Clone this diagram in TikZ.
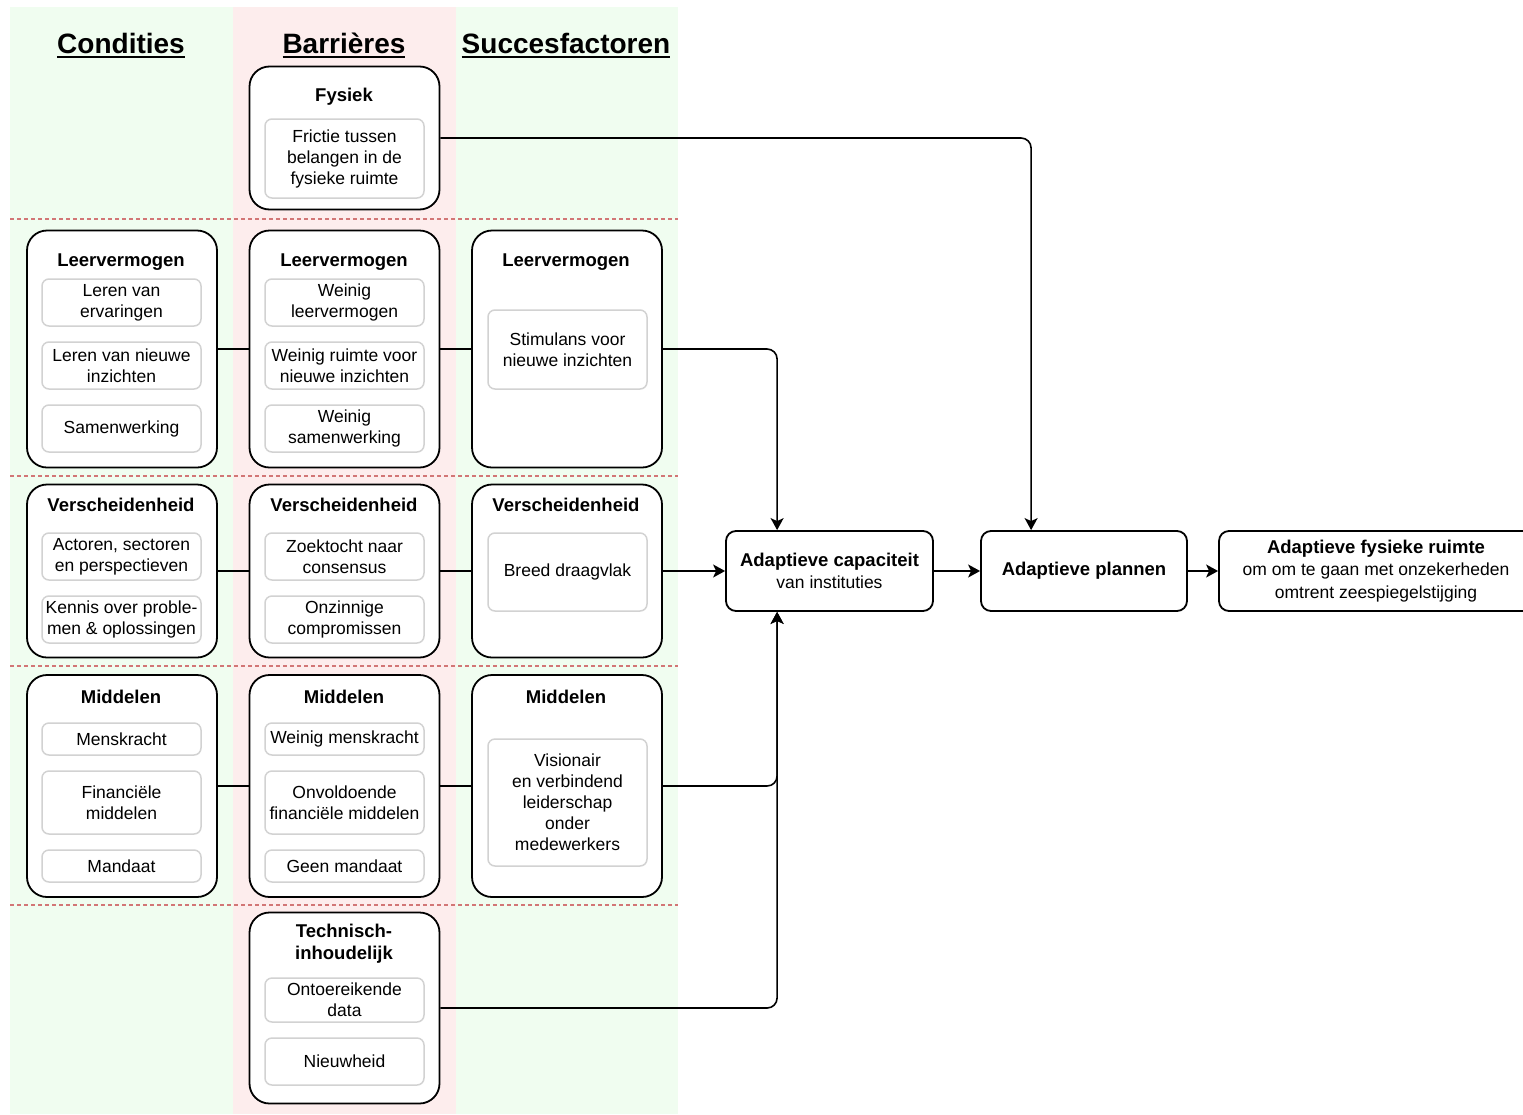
\documentclass[tikz,border=0pt]{standalone}
\usepackage{fontspec}
\setmainfont{Liberation Sans}
\usetikzlibrary{arrows.meta}

\definecolor{bggreen}{HTML}{F0FDF0}
\definecolor{bgred}{HTML}{FDEDED}
\definecolor{sepred}{HTML}{D27676}
\definecolor{itemgray}{HTML}{D2D2D2}
\newcommand{\headul}[1]{\vtop{\hbox{#1}\kern3pt\hrule height 2.2pt}}

\begin{document}
\begin{tikzpicture}[x=1pt, y=-1pt,
    outerbox/.style={draw, line width=1.8pt, rounded corners=20pt, fill=white, minimum width=190pt},
    itembox/.style={draw=itemgray, line width=1.5pt, rounded corners=7pt, fill=white, minimum width=159pt,
        inner sep=0pt, align=center, font=\fontsize{17.5}{21}\selectfont},
    boxtitle/.style={anchor=base, align=center, font=\fontsize{18.5}{22}\selectfont\bfseries},
    colhead/.style={anchor=base, font=\fontsize{28}{32}\selectfont\bfseries},
    endbox/.style={draw, line width=1.8pt, rounded corners=10pt, fill=white, minimum height=80pt,
        inner sep=0pt, align=center, font=\fontsize{17.5}{22.5}\selectfont},
    link/.style={line width=1.6pt, rounded corners=10pt},
    flow/.style={link, -{Stealth[length=12pt, width=13pt, inset=3pt]}}]
    \useasboundingbox (0,0) rectangle (1523,1114);
    % Columns
    \fill[bggreen] (10,7) rectangle (233,1114);
    \fill[bgred] (233,7) rectangle (456,1114);
    \fill[bggreen] (456,7) rectangle (678,1114);
    \foreach \yy in {219,476,666,905}
        \draw[sepred, line width=1.2pt, dash pattern=on 4pt off 3pt] (10,\yy) -- (678,\yy);
    \node[colhead] (hcond) at (121,53) {\headul{Condities}};
    \node[colhead] (hbar) at (344,53) {\headul{Barrières}};
    \node[colhead] (hsuc) at (566,53) {\headul{Succesfactoren}};

    % Fysiek
    \node[outerbox, minimum height=143pt] (barFys) at (344.5,138) {};
    \node[boxtitle] (tbarFys) at (344,101) {Fysiek};
    \node[itembox, minimum height=79pt] (bf1) at (344.5,158.5) {Frictie tussen\\belangen in de\\fysieke ruimte};

    % Leervermogen
    \node[outerbox, minimum height=237pt] (condLeer) at (122,349) {};
    \node[outerbox, minimum height=237pt] (barLeer) at (344.5,349) {};
    \node[outerbox, minimum height=237pt] (sucLeer) at (567,349) {};
    \node[boxtitle] (tcondLeer) at (121,266) {Leervermogen};
    \node[boxtitle] (tbarLeer) at (344,266) {Leervermogen};
    \node[boxtitle] (tsucLeer) at (566,266) {Leervermogen};
    \node[itembox, minimum height=47pt] (cl1) at (121.5,302.5) {Leren van\\ervaringen};
    \node[itembox, minimum height=47pt] (cl2) at (121.5,365.5) {Leren van nieuwe\\inzichten};
    \node[itembox, minimum height=47pt] (cl3) at (121.5,428.5) {Samenwerking};
    \node[itembox, minimum height=47pt] (bl1) at (344.5,302.5) {Weinig\\leervermogen};
    \node[itembox, minimum height=47pt] (bl2) at (344.5,365.5) {Weinig ruimte voor\\nieuwe inzichten};
    \node[itembox, minimum height=47pt] (bl3) at (344.5,428.5) {Weinig\\samenwerking};
    \node[itembox, minimum height=79pt] (sl1) at (567.5,349.5) {Stimulans voor\\nieuwe inzichten};

    % Verscheidenheid
    \node[outerbox, minimum height=173pt] (condVer) at (122,571) {};
    \node[outerbox, minimum height=173pt] (barVer) at (344.5,571) {};
    \node[outerbox, minimum height=173pt] (sucVer) at (567,571) {};
    \node[boxtitle] (tcondVer) at (121,511) {Verscheidenheid};
    \node[boxtitle] (tbarVer) at (344,511) {Verscheidenheid};
    \node[boxtitle] (tsucVer) at (566,511) {Verscheidenheid};
    \node[itembox, minimum height=47pt] (cv1) at (121.5,556.5) {Actoren, sectoren\\en perspectieven};
    \node[itembox, minimum height=47pt] (cv2) at (121.5,619.5) {Kennis over proble-\\men \& oplossingen};
    \node[itembox, minimum height=47pt] (bv1) at (344.5,556.5) {Zoektocht naar\\consensus};
    \node[itembox, minimum height=47pt] (bv2) at (344.5,619.5) {Onzinnige\\compromissen};
    \node[itembox, minimum height=78pt] (sv1) at (567.5,572) {Breed draagvlak};

    % Middelen
    \node[outerbox, minimum height=222pt] (condMid) at (122,786) {};
    \node[outerbox, minimum height=222pt] (barMid) at (344.5,786) {};
    \node[outerbox, minimum height=222pt] (sucMid) at (567,786) {};
    \node[boxtitle] (tcondMid) at (121,703) {Middelen};
    \node[boxtitle] (tbarMid) at (344,703) {Middelen};
    \node[boxtitle] (tsucMid) at (566,703) {Middelen};
    \node[itembox, minimum height=32pt] (cm1) at (121.5,739) {Menskracht};
    \node[itembox, minimum height=63pt] (cm2) at (121.5,802.5) {Financiële\\middelen};
    \node[itembox, minimum height=32pt] (cm3) at (121.5,866) {Mandaat};
    \node[itembox, minimum height=32pt] (bm1) at (344.5,739) {Weinig menskracht};
    \node[itembox, minimum height=63pt] (bm2) at (344.5,802.5) {Onvoldoende\\financiële middelen};
    \node[itembox, minimum height=32pt] (bm3) at (344.5,866) {Geen mandaat};
    \node[itembox, minimum height=127pt] (sm1) at (567.5,802.5) {Visionair\\en verbindend\\leiderschap\\onder\\medewerkers};

    % Technisch-inhoudelijk
    \node[outerbox, minimum height=191pt] (barTech) at (344.5,1008) {};
    \node[boxtitle, anchor=center] (tbarTech) at (344,944) {Technisch-\\inhoudelijk};
    \node[itembox, minimum height=44pt] (bt1) at (344.5,1000) {Ontoereikende\\data};
    \node[itembox, minimum height=47pt] (bt2) at (344.5,1061.5) {Nieuwheid};

    % Uitkomsten
    \node[endbox, minimum width=207pt] (cap) at (829.5,571) {{\bfseries\fontsize{18.5}{22}\selectfont Adaptieve capaciteit}\\van instituties};
    \node[endbox, minimum width=206pt] (plan) at (1084,571) {\bfseries\fontsize{18.5}{22}\selectfont\strut Adaptieve plannen};
    \node[endbox, minimum width=314pt] (ruimte) at (1376,571) {{\bfseries\fontsize{18.5}{22}\selectfont Adaptieve fysieke ruimte}\\om om te gaan met onzekerheden\\omtrent zeespiegelstijging};

    % Verbindingen
    \draw[link] (condLeer) -- (barLeer) (barLeer) -- (sucLeer);
    \draw[link] (condVer) -- (barVer) (barVer) -- (sucVer);
    \draw[link] (condMid) -- (barMid) (barMid) -- (sucMid);
    \draw[flow] (barFys.east) -| ([xshift=51pt]plan.north west);
    \draw[flow] (sucLeer.east) -| ([xshift=52pt]cap.north west);
    \draw[flow] (sucVer.east) -- (cap.west);
    \draw[flow] (sucMid.east) -| ([xshift=52pt]cap.south west);
    \draw[flow] (barTech.east) -| ([xshift=52pt]cap.south west);
    \draw[flow] (cap) -- (plan);
    \draw[flow] (plan) -- (ruimte);
\end{tikzpicture}
\end{document}
